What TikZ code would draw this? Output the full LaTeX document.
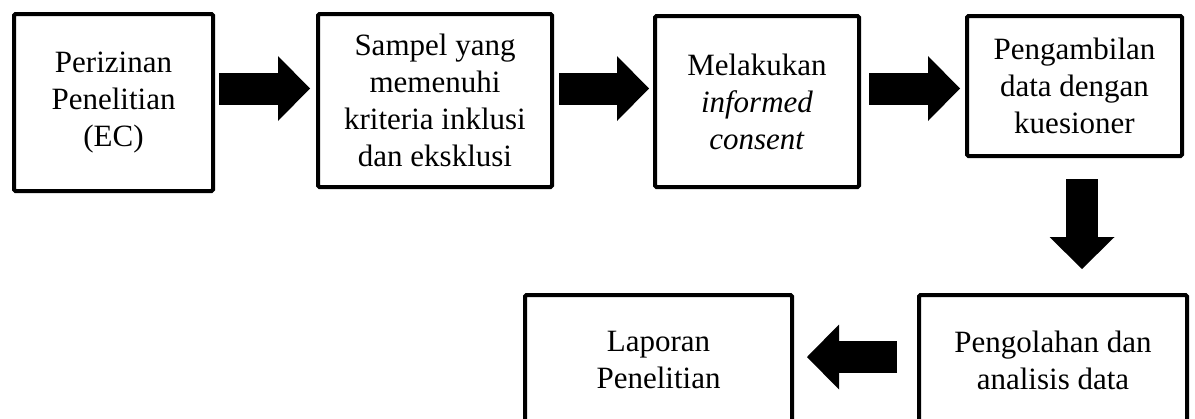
\documentclass[tikz,border=0pt]{standalone}
\usepackage{fontspec}
\setmainfont{Liberation Serif}
\usetikzlibrary{positioning, arrows.meta}

\begin{document}
\begin{tikzpicture}[
		box/.style={draw, line width=4pt, rounded corners=1.5pt, align=center, inner sep=0pt, font=\fontsize{31}{37}\selectfont},
		flow/.style={line width=32pt, -{Triangle[length=32pt, width=65pt, line width=0pt]}}
		]
		\useasboundingbox (0,0) rectangle (1195pt,-418pt);
		\clip (0,0) rectangle (1195pt,-418pt);
		
		% --- Top row ---
		\node[box, minimum width=199pt, minimum height=177pt, anchor=north west] (izin) at (12pt,-12pt) {Perizinan\\Penelitian\\(EC)};
		\node[box, minimum width=234pt, minimum height=173pt, anchor=north west] (sampel) [below right=0pt and 101pt of izin.north east] {Sampel yang\\memenuhi\\kriteria inklusi\\dan eksklusi};
		\node[box, minimum width=204pt, minimum height=171pt, anchor=north west] (consent) [below right=2pt and 99pt of sampel.north east] {Melakukan\\\textit{informed}\\\textit{consent}};
		\node[box, minimum width=215pt, minimum height=140pt, anchor=north west] (ambil) [below right=0pt and 104pt of consent.north east] {Pengambilan\\data dengan\\kuesioner};
		
		% --- Bottom row ---
		\node[box, minimum width=268pt, minimum height=130pt, anchor=north east] (olah) at ([xshift=5pt, yshift=-135pt]ambil.south east) {Pengolahan dan\\analisis data};
		\node[box, minimum width=267pt, minimum height=130pt] (laporan) [left=123pt of olah] {Laporan\\Penelitian};
		
		% Block arrows
		\draw[flow, shorten <=4pt, shorten >=6pt] ([yshift=14pt]izin.east) -- ([yshift=14pt]izin.east -| sampel.west);
		\draw[flow, shorten <=5pt, shorten >=4pt] ([yshift=12pt]sampel.east) -- ([yshift=12pt]sampel.east -| consent.west);
		\draw[flow, shorten <=8pt, shorten >=5pt] ([yshift=13pt]consent.east) -- ([yshift=13pt]consent.east -| ambil.west);
		\draw[flow, shorten <=21pt, shorten >=24pt] ([xshift=7.5pt]ambil.south) -- ([xshift=7.5pt]ambil.south |- olah.north);
		\draw[flow, shorten <=20pt, shorten >=13pt] ([yshift=3pt]olah.west) -- ([yshift=3pt]olah.west -| laporan.east);
		
	\end{tikzpicture}
\end{document}
